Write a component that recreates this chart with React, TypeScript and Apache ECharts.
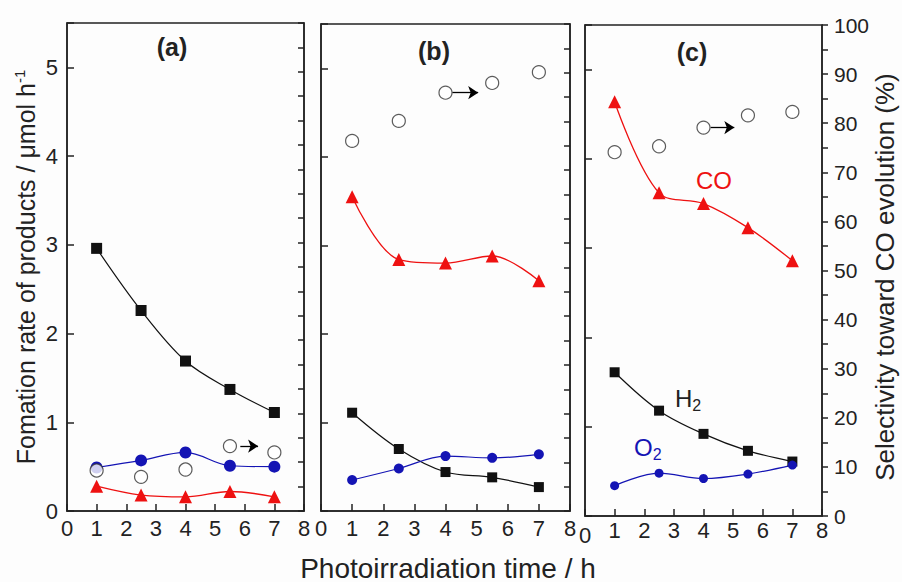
import React, { useEffect, useRef } from 'react';
import * as echarts from 'echarts';

// ---- data ----
const times = [1, 2.5, 4, 5.5, 7];

const aH2 = [2.96, 2.26, 1.69, 1.37, 1.11];
const aO2 = [0.49, 0.57, 0.66, 0.51, 0.5];
const aCO = [0.28, 0.18, 0.16, 0.22, 0.16];
const aSel = [8.3, 7.0, 8.5, 13.3, 12.0];
const aArrow = [[5.85, 13.3], [6.45, 13.3]];

const bH2 = [1.11, 0.7, 0.44, 0.38, 0.27];
const bO2 = [0.35, 0.48, 0.62, 0.6, 0.64];
const bCO = [3.55, 2.84, 2.8, 2.88, 2.6];
const bSel = [76.0, 80.1, 85.9, 87.9, 90.1];
const bArrow = [[4.22, 85.9], [5.05, 85.9]];

const cH2 = [1.61, 1.18, 0.92, 0.73, 0.61];
const cO2 = [0.34, 0.48, 0.42, 0.47, 0.57];
const cCO = [4.64, 3.62, 3.5, 3.23, 2.86];
const cSel = [74.1, 75.3, 79.1, 81.6, 82.3];
const cArrow = [[4.24, 79.1], [5.04, 79.1]];

const panelNames = ['(a)', '(b)', '(c)'];
const xTitle = 'Photoirradiation time / h';
const yLeftTitle = 'Fomation rate of products / μmol h';
const yRightTitle = 'Selectivity toward CO evolution (%)';

// ---- styles ----
const FONT = '"Liberation Sans", Arial, sans-serif';
const AX = '#222';
const RED = '#ee1111';
const BLUE = '#1414b4';
const BLACK = '#111';

const grids = [
  { left: 67, top: 23, width: 237, height: 488 },
  { left: 321, top: 24, width: 249, height: 487 },
  { left: 585, top: 25, width: 237, height: 491 },
];

const panels = [
  { h2: aH2, o2: aO2, co: aCO, sel: aSel, arrow: aArrow, sq: 11, ci: 12 },
  { h2: bH2, o2: bO2, co: bCO, sel: bSel, arrow: bArrow, sq: 10, ci: 10 },
  { h2: cH2, o2: cO2, co: cCO, sel: cSel, arrow: cArrow, sq: 10, ci: 9 },
];

function pts(arr: number[]) {
  return times.map((t, k) => [t, arr[k]]);
}

function buildOption() {
  const xAxis: any[] = [];
  const yAxis: any[] = [];
  const series: any[] = [];
  const axisLine = { show: true, lineStyle: { color: AX, width: 1.5 } };

  grids.forEach((_, i) => {
    xAxis.push({
      type: 'value',
      gridIndex: i,
      min: 0,
      max: 8,
      interval: 1,
      axisLine,
      axisTick: { inside: true, length: 7, lineStyle: { color: AX, width: 1.5 } },
      axisLabel: {
        fontSize: 22,
        color: AX,
        fontFamily: FONT,
        margin: i === 2 ? 3 : 6,
        formatter: (v: number) => (i === 2 && v === 0 ? '{low|0}' : String(v)),
        rich: { low: { fontSize: 22, fontFamily: FONT, color: AX, padding: [5, 0, 0, 0] } },
      },
      splitLine: { show: false },
    });
    yAxis.push({
      type: 'value',
      gridIndex: i,
      position: 'left',
      min: 0,
      max: 5.5,
      interval: 1,
      axisLine,
      axisTick: { inside: true, length: 7, lineStyle: { color: AX, width: 1.5 } },
      axisLabel: {
        show: i === 0,
        fontSize: 22,
        color: AX,
        fontFamily: FONT,
        margin: 9,
        formatter: (v: number) => (v > 5 ? '' : String(v)),
      },
      splitLine: { show: false },
    });
    yAxis.push({
      type: 'value',
      gridIndex: i,
      position: 'right',
      min: 0,
      max: 100,
      interval: 5,
      axisLine,
      axisTick: { inside: i < 2, length: 6, lineStyle: { color: AX, width: 1.5 } },
      axisLabel: {
        show: i === 2,
        fontSize: 21,
        color: AX,
        fontFamily: FONT,
        margin: 12,
        formatter: (v: number) => (v % 10 === 0 ? String(v) : ''),
      },
      splitLine: { show: false },
    });

    const p = panels[i];
    series.push({
      type: 'line',
      xAxisIndex: i,
      yAxisIndex: 2 * i,
      data: pts(p.co),
      smooth: 0.35,
      symbol: 'triangle',
      symbolSize: 13,
      itemStyle: { color: RED },
      lineStyle: { color: RED, width: 1.3 },
      z: 2,
    });
    series.push({
      type: 'line',
      xAxisIndex: i,
      yAxisIndex: 2 * i,
      data: pts(p.h2),
      smooth: 0.35,
      symbol: 'rect',
      symbolSize: p.sq,
      itemStyle: { color: BLACK },
      lineStyle: { color: BLACK, width: 1.2 },
      z: 3,
    });
    series.push({
      type: 'line',
      xAxisIndex: i,
      yAxisIndex: 2 * i,
      data: pts(p.o2),
      smooth: 0.35,
      symbol: 'circle',
      symbolSize: p.ci,
      itemStyle: { color: BLUE },
      lineStyle: { color: BLUE, width: 1.2 },
      z: 3,
    });
    series.push({
      type: 'scatter',
      xAxisIndex: i,
      yAxisIndex: 2 * i + 1,
      data: pts(p.sel),
      symbol: 'circle',
      symbolSize: 13,
      itemStyle: { color: '#ffffff', borderColor: '#333', borderWidth: 1.2 },
      z: 5,
      markLine: {
        silent: true,
        symbol: ['none', 'arrow'],
        symbolSize: 10,
        label: { show: false },
        lineStyle: { color: '#000', width: 1.3, type: 'solid' },
        data: [[{ coord: p.arrow[0] }, { coord: p.arrow[1] }]],
      },
    });
  });

  const txt = (x: number, y: number, text: string, extra: any = {}, rot = 0) => ({
    type: 'text',
    x,
    y,
    rotation: rot,
    style: {
      text,
      fontFamily: FONT,
      fontSize: 22,
      fill: AX,
      align: 'center',
      verticalAlign: 'middle',
      textAlign: 'center',
      textVerticalAlign: 'middle',
      ...extra,
    },
  });

  const graphic: any[] = [
    txt(172, 47, panelNames[0], { fontWeight: 'bold', fontSize: 25 }),
    txt(434, 51, panelNames[1], { fontWeight: 'bold', fontSize: 25 }),
    txt(692, 52, panelNames[2], { fontWeight: 'bold', fontSize: 25 }),
    txt(714, 180, 'CO', { fill: RED, fontSize: 24 }),
    {
      type: 'text',
      x: 675,
      y: 398,
      style: {
        text: '{m|H}{s|2}',
        fontFamily: FONT,
        fill: AX,
        align: 'left',
        verticalAlign: 'middle',
        rich: {
          m: { fontSize: 24, fontFamily: FONT, fill: AX, color: AX },
          s: { fontSize: 16, fontFamily: FONT, fill: AX, color: AX, padding: [14, 0, 0, 0] },
        },
      },
    },
    {
      type: 'text',
      x: 634,
      y: 447,
      style: {
        text: '{m|O}{s|2}',
        fontFamily: FONT,
        fill: BLUE,
        align: 'left',
        verticalAlign: 'middle',
        rich: {
          m: { fontSize: 24, fontFamily: FONT, fill: BLUE, color: BLUE },
          s: { fontSize: 16, fontFamily: FONT, fill: BLUE, color: BLUE, padding: [14, 0, 0, 0] },
        },
      },
    },
    txt(448, 568, xTitle, { fontSize: 28 }),
    {
      type: 'text',
      x: 26,
      y: 267,
      rotation: Math.PI / 2,
      style: {
        text: '{m|' + yLeftTitle + '}{s|-1}',
        fontFamily: FONT,
        fill: AX,
        align: 'center',
        verticalAlign: 'middle',
        rich: {
          m: { fontSize: 25, fontFamily: FONT, fill: AX, color: AX },
          s: { fontSize: 15, fontFamily: FONT, fill: AX, color: AX, padding: [0, 0, 14, 0] },
        },
      },
    },
    txt(885, 277, yRightTitle, { fontSize: 26 }, Math.PI / 2),
  ];

  return {
    animation: false,
    backgroundColor: '#fdfdfd',
    grid: grids.map((g) => ({ ...g, show: true, borderColor: AX, borderWidth: 1.5, backgroundColor: 'transparent' })),
    xAxis,
    yAxis,
    series,
    graphic,
  };
}

export default function App() {
  const ref = useRef<HTMLDivElement>(null);
  useEffect(() => {
    const chart = echarts.init(ref.current!, null, { renderer: 'svg' });
    chart.setOption(buildOption() as any);
    return () => chart.dispose();
  }, []);
  return (
    <div
      ref={ref}
      style={{ position: 'absolute', left: 0, top: 0, width: 902, height: 582 }}
    />
  );
}
